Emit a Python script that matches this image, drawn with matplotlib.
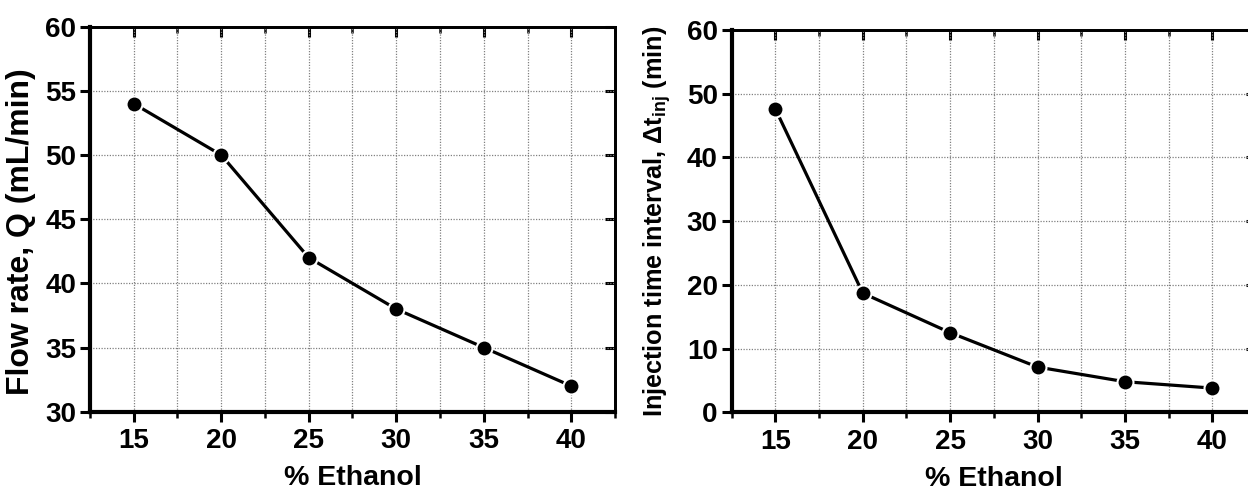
import numpy as np
import matplotlib.pyplot as plt
from matplotlib.ticker import MultipleLocator

plt.rcParams['font.family'] = ['Liberation Sans', 'DejaVu Sans']
plt.rcParams['font.weight'] = 'bold'
plt.rcParams['axes.labelweight'] = 'bold'
plt.rcParams['mathtext.fontset'] = 'custom'
plt.rcParams['mathtext.bf'] = 'Liberation Sans:bold'
plt.rcParams['mathtext.rm'] = 'Liberation Sans'

# % ethanol in the mobile phase
etanol = [15, 20, 25, 30, 35, 40]
# flow rate Q (mL/min)
vazao = [54, 50, 42, 38, 35, 32]
# injection time interval (min)
delta_t = [47.6, 18.7, 12.5, 7.1, 4.8, 3.8]

fig = plt.figure(figsize=(12.48, 4.94), dpi=100)
ax1 = fig.add_axes([0.0721, 0.1666, 0.4207, 0.7794])
ax2 = fig.add_axes([0.5863, 0.1654, 0.4201, 0.7739])

grade = dict(linestyle=(0, (1, 1.2)), color='#808080', linewidth=0.9)


def estilo(ax, ymin, ymax, ypasso):
    ax.set_xlim(12.5, 42.5)
    ax.set_ylim(ymin, ymax)
    ax.xaxis.set_major_locator(MultipleLocator(5))
    ax.xaxis.set_minor_locator(MultipleLocator(2.5))
    ax.yaxis.set_major_locator(MultipleLocator(ypasso))
    ax.grid(True, which='both', axis='x', **grade)
    ax.grid(True, which='major', axis='y', **grade)
    ax.set_axisbelow(True)
    # bottom / left: ticks pointing out
    ax.tick_params(axis='x', which='major', direction='out', length=7, width=2.2, labelsize=20, pad=5)
    ax.tick_params(axis='x', which='minor', direction='out', length=4, width=1.8)
    ax.tick_params(axis='y', which='major', direction='out', length=7, width=2.2, labelsize=20, pad=3)
    for spine in ['left', 'bottom']:
        ax.spines[spine].set_linewidth(3)
    for spine in ['top', 'right']:
        ax.spines[spine].set_linewidth(2)

    # top / right: ticks pointing in, no labels
    topo = ax.secondary_xaxis('top')
    topo.xaxis.set_major_locator(MultipleLocator(5))
    topo.xaxis.set_minor_locator(MultipleLocator(2.5))
    topo.tick_params(which='major', direction='in', length=7, width=2.2, labeltop=False)
    topo.tick_params(which='minor', direction='in', length=4, width=1.8)
    topo.spines['top'].set_linewidth(2)
    dir_ = ax.secondary_yaxis('right')
    dir_.yaxis.set_major_locator(MultipleLocator(ypasso))
    dir_.tick_params(which='major', direction='in', length=7, width=2.2, labelright=False)
    dir_.spines['right'].set_linewidth(2)

    ax.set_xlabel('% Ethanol', fontsize=20.5, labelpad=8)


estilo(ax1, 30, 60, 5)
estilo(ax2, 0, 60, 10)

for ax, y in [(ax1, vazao), (ax2, delta_t)]:
    ax.plot(etanol, y, color='black', linewidth=2.3, marker='o', markersize=11.5,
            markerfacecolor='black', markeredgecolor='white', markeredgewidth=1.5,
            clip_on=False, zorder=5)

ax1.set_ylabel('Flow rate, Q (mL/min)', fontsize=23)
ax1.yaxis.set_label_coords(-0.103, 0.467)
ax2.set_ylabel(r'Injection time interval, $\mathrm{\Delta}$t$_{\mathbf{inj}}$ (min)', fontsize=18.2)
ax2.yaxis.set_label_coords(-0.112, 0.5)

fig.savefig('out.png', dpi=100)
